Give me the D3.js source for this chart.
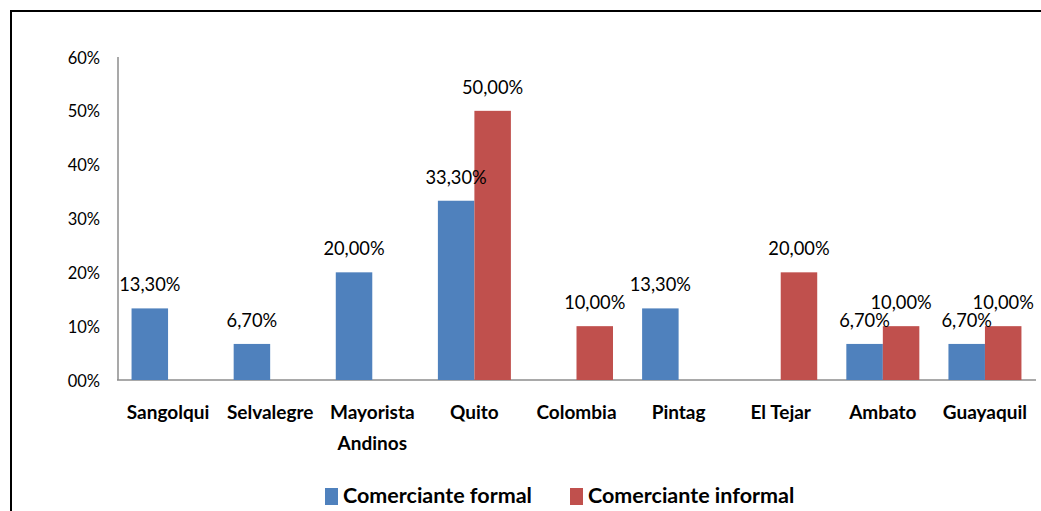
<!DOCTYPE html>
<html><head><meta charset="utf-8">
<script src="https://cdn.jsdelivr.net/npm/d3@7"></script>
<style>body{margin:0;background:#fff}svg{display:block}</style>
</head><body>
<svg id="c" width="1041" height="511"></svg>
<script>
const categories = [["Sangolqui"],["Selvalegre"],["Mayorista","Andinos"],["Quito"],["Colombia"],["Pintag"],["El Tejar"],["Ambato"],["Guayaquil"]];
const seriesNames = ["Comerciante formal","Comerciante informal"];
const formal = [13.3, 6.7, 20, 33.3, 0, 13.3, 0, 6.7, 6.7];
const informal = [0, 0, 0, 50, 10, 0, 20, 10, 10];
const yTicks = [0,10,20,30,40,50,60];
const yTickLabels = ["00%","10%","20%","30%","40%","50%","60%"];
const colors = ["#4F81BD","#C0504D"];

(function(){
const svg = d3.select("#c");
const font = "Lato, 'Open Sans', sans-serif";
// frame
svg.append("path").attr("d","M11,520 V11 H1050").attr("fill","none").attr("stroke","#000").attr("stroke-width",2);

const pL=117, pR=1036, pT=57, pB=380;
const x = d3.scaleBand().domain(d3.range(categories.length)).range([pL,pR]).paddingInner(0).paddingOuter(0);
const y = d3.scaleLinear().domain([0,60]).range([pB,pT]);
const barW = 36.5;
const data = [formal, informal];

// axes lines
svg.append("line").attr("x1",pL+1).attr("x2",pL+1).attr("y1",pT).attr("y2",pB).attr("stroke","#8c8c8c").attr("stroke-width",1.5);
svg.append("line").attr("x1",pL).attr("x2",pR).attr("y1",pB).attr("y2",pB).attr("stroke","#8c8c8c").attr("stroke-width",1.5);

// y tick labels
svg.append("g").selectAll("text").data(yTicks).join("text")
  .attr("x",100).attr("y",d=>y(d)+6.5).attr("text-anchor","end")
  .attr("font-family",font).attr("font-size",16.5).attr("fill","#000")
  .text((d,i)=>yTickLabels[i]);

// bars
data.forEach((vals,s)=>{
  const g = svg.append("g");
  vals.forEach((v,i)=>{
    if(v<=0) return;
    const cx = x(i)+x.bandwidth()/2;
    const bx = s===0 ? cx-barW : cx;
    g.append("rect").attr("x",bx).attr("y",y(v)).attr("width",barW).attr("height",pB-y(v)).attr("fill",colors[s]);
  });
});
// labels
data.forEach((vals,s)=>{
  vals.forEach((v,i)=>{
    if(v<=0) return;
    const cx = x(i)+x.bandwidth()/2;
    const lx = s===0 ? cx-barW/2 : cx+barW/2;
    svg.append("text").attr("x",lx).attr("y",y(v)-17).attr("text-anchor","middle")
      .attr("font-family",font).attr("font-size",18.3).attr("fill","#000")
      .text(v.toFixed(2).replace(".",",")+"%");
  });
});

// category labels
categories.forEach((lines,i)=>{
  const t = svg.append("text").attr("text-anchor","middle").attr("font-family",font)
    .attr("font-weight","bold").attr("font-size",19).attr("fill","#000");
  lines.forEach((ln,k)=>{
    t.append("tspan").attr("x",x(i)+x.bandwidth()/2).attr("y",419+k*31).text(ln);
  });
});

// legend
const legX = [325, 570];
seriesNames.forEach((n,s)=>{
  svg.append("rect").attr("x",legX[s]).attr("y",488).attr("width",13).attr("height",17).attr("fill",colors[s]);
  svg.append("text").attr("x",legX[s]+18).attr("y",503).attr("font-family",font).attr("font-weight","bold")
    .attr("font-size",21.5).attr("fill","#000").text(n);
});
})();
</script>
</body></html>
